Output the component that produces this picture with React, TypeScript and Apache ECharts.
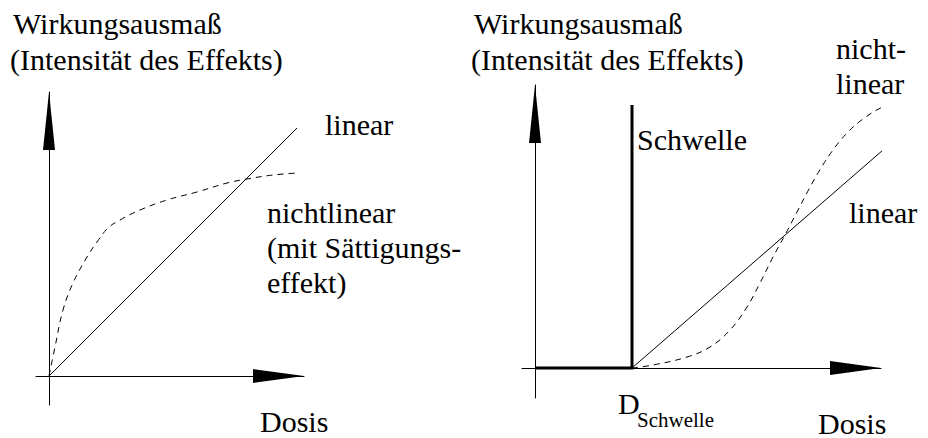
import React, { useEffect, useRef } from "react";
import * as echarts from "echarts";

// ---- Left panel: linear vs. saturating (units: dose / effect, origin 0,0) ----
const leftLinearDose = [0, 248];
const leftLinearEffect = [0, 248];
const leftSatDose = [0, 6, 14, 24, 38, 48, 59, 71, 91, 118, 148, 178, 198, 224, 249];
const leftSatEffect = [0, 29, 66, 93, 119, 134, 148, 156, 166, 176, 184, 193, 197, 201, 203];

// ---- Right panel: threshold, linear above threshold, sigmoid ----
const threshDose = [0, 97, 97];
const threshEffect = [0, 0, 263];
const rightLinearDose = [97, 363];
const rightLinearEffect = [0, 231];
const rightSigDose = [97, 118, 152, 175, 195, 212, 225, 238, 250, 262, 274, 286, 298, 312, 328, 348, 372];
const rightSigEffect = [0, 3, 11, 21, 38, 61, 85, 111, 133, 156, 179, 200, 218, 235, 249, 261, 268];

// ---- Texts ----
const yTitleLines = ["Wirkungsausmaß", "(Intensität des Effekts)"];
const xTitle = "Dosis";
const leftLinearLabel = "linear";
const leftNonlinearLines = ["nichtlinear", "(mit Sättigungs-", "effekt)"];
const rightNonlinearLines = ["nicht-", "linear"];
const rightLinearLabel = "linear";
const thresholdLabel = "Schwelle";
const doseThresholdMain = "D";
const doseThresholdSub = "Schwelle";

const zip = (xs: number[], ys: number[]) => xs.map((x, i) => [x, ys[i]]);

const FS = 30;

// x = left edge, base = baseline y
function txt(text: string, x: number, base: number, family: string, size = FS) {
  return {
    type: "text",
    x,
    y: Math.round(base - 0.84 * size),
    style: { text, fontFamily: family, fontSize: size, fill: "#000" },
  };
}

function axisX(gridIndex: number, min: number, max: number) {
  return {
    type: "value",
    gridIndex,
    min,
    max,
    axisLine: {
      show: true,
      onZero: true,
      symbol: ["none", "triangle"],
      symbolSize: [14, 51],
      symbolOffset: [0, -25.5],
      lineStyle: { color: "#000", width: 1 },
    },
    axisTick: { show: false },
    axisLabel: { show: false },
    splitLine: { show: false },
  };
}

function axisY(gridIndex: number, min: number, max: number) {
  return {
    type: "value",
    gridIndex,
    min,
    max,
    axisLine: {
      show: true,
      onZero: true,
      symbol: ["none", "triangle"],
      symbolSize: [12, 58],
      symbolOffset: [0, -29],
      lineStyle: { color: "#000", width: 1 },
    },
    axisTick: { show: false },
    axisLabel: { show: false },
    splitLine: { show: false },
  };
}

function lineSeries(
  xi: number,
  data: number[][],
  width: number,
  dashed: boolean,
  smooth: boolean | number = false
) {
  return {
    type: "line",
    xAxisIndex: xi,
    yAxisIndex: xi,
    data,
    symbol: "none",
    smooth,
    clip: false,
    emphasis: { disabled: true },
    lineStyle: {
      color: "#000",
      width,
      type: dashed ? [6, 5] : "solid",
      cap: "butt",
      join: "miter",
    },
  };
}

export default function App() {
  const ref = useRef<HTMLDivElement>(null);

  useEffect(() => {
    document.body.style.margin = "0";
    if (!ref.current) return;
    const chart = echarts.init(ref.current, null, { renderer: "svg" });
    const L = "Liberation Serif";
    const T = "Times New Roman";
    chart.setOption({
      animation: false,
      grid: [
        { left: 36, top: 92, width: 268, height: 313 },
        { left: 522, top: 85, width: 359, height: 313 },
      ],
      xAxis: [axisX(0, -13, 255), axisX(1, -13, 346)],
      yAxis: [axisY(0, -29, 284), axisY(1, -30, 283)],
      series: [
        lineSeries(0, zip(leftLinearDose, leftLinearEffect), 1, false),
        lineSeries(0, zip(leftSatDose, leftSatEffect), 1, true, 0.4),
        lineSeries(1, zip(threshDose, threshEffect), 3, false),
        lineSeries(1, zip(rightLinearDose, rightLinearEffect), 1, false),
        lineSeries(1, zip(rightSigDose, rightSigEffect), 1, true, 0.4),
      ],
      graphic: [
        txt(yTitleLines[0], 13, 33, L),
        txt(yTitleLines[1], 10, 69, L),
        txt(leftLinearLabel, 325, 134, L),
        txt(leftNonlinearLines[0], 267, 222, L),
        txt(leftNonlinearLines[1], 267, 257, L),
        txt(leftNonlinearLines[2], 267, 292, L),
        txt(xTitle, 260, 431, "serif"),
        txt(yTitleLines[0], 474, 33, T),
        txt(yTitleLines[1], 471, 69, T),
        txt(rightNonlinearLines[0], 836, 58, T),
        txt(rightNonlinearLines[1], 836, 93, T),
        txt(thresholdLabel, 637, 149, T),
        txt(rightLinearLabel, 849, 222, T),
        txt(doseThresholdMain, 618, 413, T),
        txt(doseThresholdSub, 637, 427, T, 21),
        txt(xTitle, 818, 433, "serif"),
      ],
    });
    return () => chart.dispose();
  }, []);

  return <div ref={ref} style={{ width: 928, height: 438 }} />;
}
